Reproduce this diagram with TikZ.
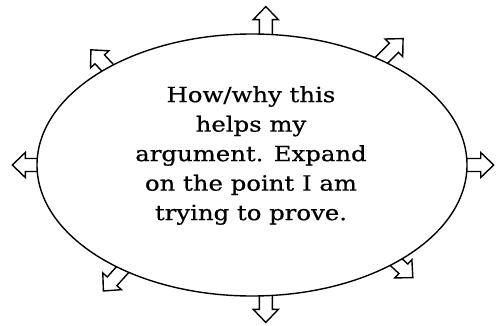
\documentclass[tikz,border=0pt]{standalone}
\usepackage{fontspec}
\newfontfamily\typefont[FakeStretch=1.16,FakeBold=0.6]{DejaVu Serif}
\usetikzlibrary{shapes.geometric,backgrounds}
\tikzset{
  outline/.style={draw=black, line width=1.4pt},
  bigoval/.style={outline, ellipse, fill=white, minimum width=430pt, minimum height=262pt, inner sep=0pt},
  bodytext/.style={align=center, inner sep=0pt, font=\typefont\fontsize{21}{29.5}\selectfont},
  pics/blockarrow/.style={code={
    \draw[outline, fill=white, line join=miter]
      (-5,-6.5) -- ({#1-13},-6.5) -- ({#1-13},-12.5) -- (#1,0) -- ({#1-13},12.5) -- ({#1-13},6.5) -- (-5,6.5);
  }}
}
\begin{document}
\begin{tikzpicture}[x=1pt,y=1pt]
\useasboundingbox (0,0) rectangle (498,325);
\node[bigoval] (e) at (252,160) {};
\node[bodytext] (t) at (251,169.5) {How/why this\\helps my\\argument. Expand\\on the point I am\\trying to prove.};
\begin{scope}[on background layer]
  \path (e.84.3)  pic[rotate=90]  {blockarrow=27};
  \path (e.-84.4) pic[rotate=-90] {blockarrow=26};
  \path (e.180)   pic[rotate=180] {blockarrow=24};
  \path (e.0)     pic[rotate=0]   {blockarrow=26};
  \path (e.39.1)  pic[rotate=45]  {blockarrow=30};
  \path (e.146)   pic[rotate=133] {blockarrow=24};
  \path (e.219.7) pic[rotate=228] {blockarrow=28};
  \path (e.-34)   pic[rotate=-43] {blockarrow=22};
\end{scope}
\end{tikzpicture}
\end{document}
